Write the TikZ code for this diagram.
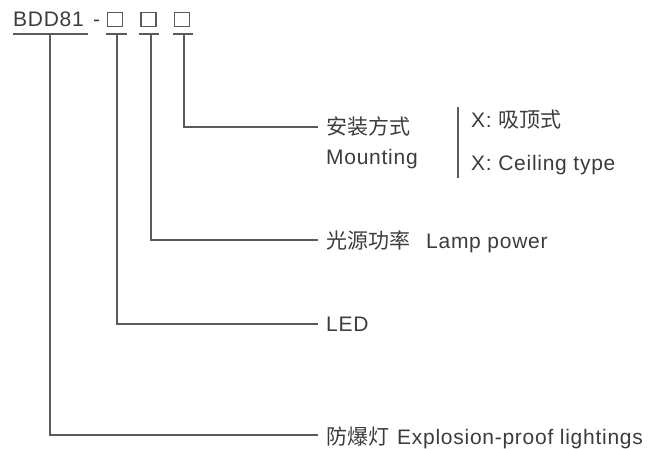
\documentclass[tikz,border=0pt]{standalone}
\usepackage{fontspec}
\setmainfont{Liberation Sans}[LetterSpace=3.5]
\newfontfamily\cjk{Noto Sans CJK SC}
\definecolor{txtc}{HTML}{3C3C3C}
\definecolor{linec}{HTML}{5A5A5A}
\begin{document}
\begin{tikzpicture}[x=1pt,y=-1pt,
  txt/.style={inner sep=0pt, anchor=base west, text=txtc, font=\fontsize{21}{25}\selectfont},
  ctxt/.style={txt, font=\fontsize{21}{25}\selectfont\cjk},
  sq/.style={draw=linec, line width=1.1pt, minimum width=15pt, minimum height=14pt, inner sep=0pt},
  conn/.style={draw=linec, line width=1.6pt},
  under/.style={draw=linec, line width=1.6pt}]
\useasboundingbox (0,0) rectangle (658,449);
% model code
\node[txt] (model) at (13,26.5) {BDD81};
\node[txt] (dash) at (93,26.5) {-};
\node[sq] (s1) at (115,19.5) {};
\node[sq] (s2) at (148.5,19.5) {};
\node[sq] (s3) at (182,19.5) {};
% underlines
\coordinate (u0a) at (13,34); \coordinate (u0b) at (88,34);
\coordinate (u1a) at (106,34); \coordinate (u1b) at (127,34);
\coordinate (u2a) at (139,34); \coordinate (u2b) at (159,34);
\coordinate (u3a) at (173,34); \coordinate (u3b) at (193,34);
\draw[under] (u0a) -- (u0b);
\draw[under] (u1a) -- (u1b);
\draw[under] (u2a) -- (u2b);
\draw[under] (u3a) -- (u3b);
% stems start
\coordinate (t0) at (50,34);
\coordinate (t1) at (117,34);
\coordinate (t2) at (151,34);
\coordinate (t3) at (184,34);
% line ends
\coordinate (e3) at (318,127);
\coordinate (e2) at (318,240);
\coordinate (e1) at (318,324);
\coordinate (e0) at (318,435);
\draw[conn] (t3) |- (e3);
\draw[conn] (t2) |- (e2);
\draw[conn] (t1) |- (e1);
\draw[conn] (t0) |- (e0);
% labels
\node[ctxt] (mountcn) at (326,135) {安装方式};
\node[txt] (mounten) at (326,165) {Mounting};
\coordinate (bar1) at (458,107); \coordinate (bar2) at (458,178);
\draw[conn, line width=1.4pt] (bar1) -- (bar2);
\node[txt] (xcn) at (471,128) {X: {\cjk 吸顶式}};
\node[txt] (xen) at (471,171) {X: Ceiling type};
\node[ctxt] (powcn) at (326,248) {光源功率};
\node[txt] (powen) at (426,248) {Lamp power};
\node[txt] (led) at (326,331) {LED};
\node[ctxt] (excn) at (326,444) {防爆灯};
\node[txt] (exen) at (397,444) {Explosion-proof lightings};
\end{tikzpicture}
\end{document}
